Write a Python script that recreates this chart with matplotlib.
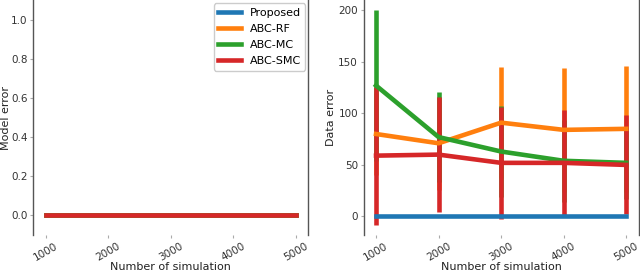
import matplotlib
matplotlib.use("Agg")
import matplotlib.pyplot as plt
from matplotlib.lines import Line2D

sims = [1000, 2000, 3000, 4000, 5000]
methods = ["Proposed", "ABC-RF", "ABC-MC", "ABC-SMC"]
colors = ["#1f77b4", "#ff7f0e", "#2ca02c", "#d62728"]

model_err = {m: [0, 0, 0, 0, 0] for m in methods}

data_mean = {
    "Proposed": [0, 0, 0, 0, 0],
    "ABC-RF": [80, 71, 91, 84, 85],
    "ABC-MC": [127, 77, 63, 54, 52],
    "ABC-SMC": [59, 60, 52, 52, 50],
}
data_std = {
    "Proposed": [0, 0, 0, 0, 0],
    "ABC-RF": [40, 45, 54, 60, 61],
    "ABC-MC": [73, 44, 44, 40, 35],
    "ABC-SMC": [67, 56, 54, 51, 48],
}

fig = plt.figure(figsize=(6.4, 2.72), dpi=100)
ax1 = fig.add_axes([0.052, 0.136, 0.43, 0.864])
ax2 = fig.add_axes([0.568, 0.136, 0.43, 0.864])

lw = 3.3
for m, c in zip(methods, colors):
    ax1.errorbar(sims, model_err[m], yerr=0, color=c, lw=lw, elinewidth=lw)
    ax2.errorbar(sims, data_mean[m], yerr=data_std[m], color=c, lw=lw, elinewidth=lw)

ax1.set_ylim(-0.1, 1.1)
ax2.set_ylim(-18, 210)
ax1.set_yticks([0, 0.2, 0.4, 0.6, 0.8, 1.0])
ax2.set_yticks([0, 50, 100, 150, 200])

for ax, lab, lx in [(ax1, "Model error", -0.082), (ax2, "Data error", -0.1)]:
    ax.set_xticks(sims)
    ax.set_xticklabels([str(s) for s in sims], rotation=30)
    ax.tick_params(labelsize=7.5, length=2, width=0.8, color="#aaaaaa",
                   labelcolor="#333333", pad=2)
    ax.set_xlabel("Number of simulation", fontsize=8, color="#222222", labelpad=0)
    ax.set_ylabel(lab, fontsize=8, color="#222222")
    ax.yaxis.set_label_coords(lx, 0.5)
    for s in ["top", "bottom"]:
        ax.spines[s].set_visible(False)
    for s in ["left", "right"]:
        ax.spines[s].set_color("#555555")
        ax.spines[s].set_linewidth(1)

handles = [Line2D([], [], color=c, lw=lw) for c in colors]
ax1.legend(handles, methods, loc="upper right", fontsize=8, handlelength=2.0,
           borderaxespad=0.3, framealpha=1, labelspacing=0.55)

fig.savefig("out.png", dpi=100)
